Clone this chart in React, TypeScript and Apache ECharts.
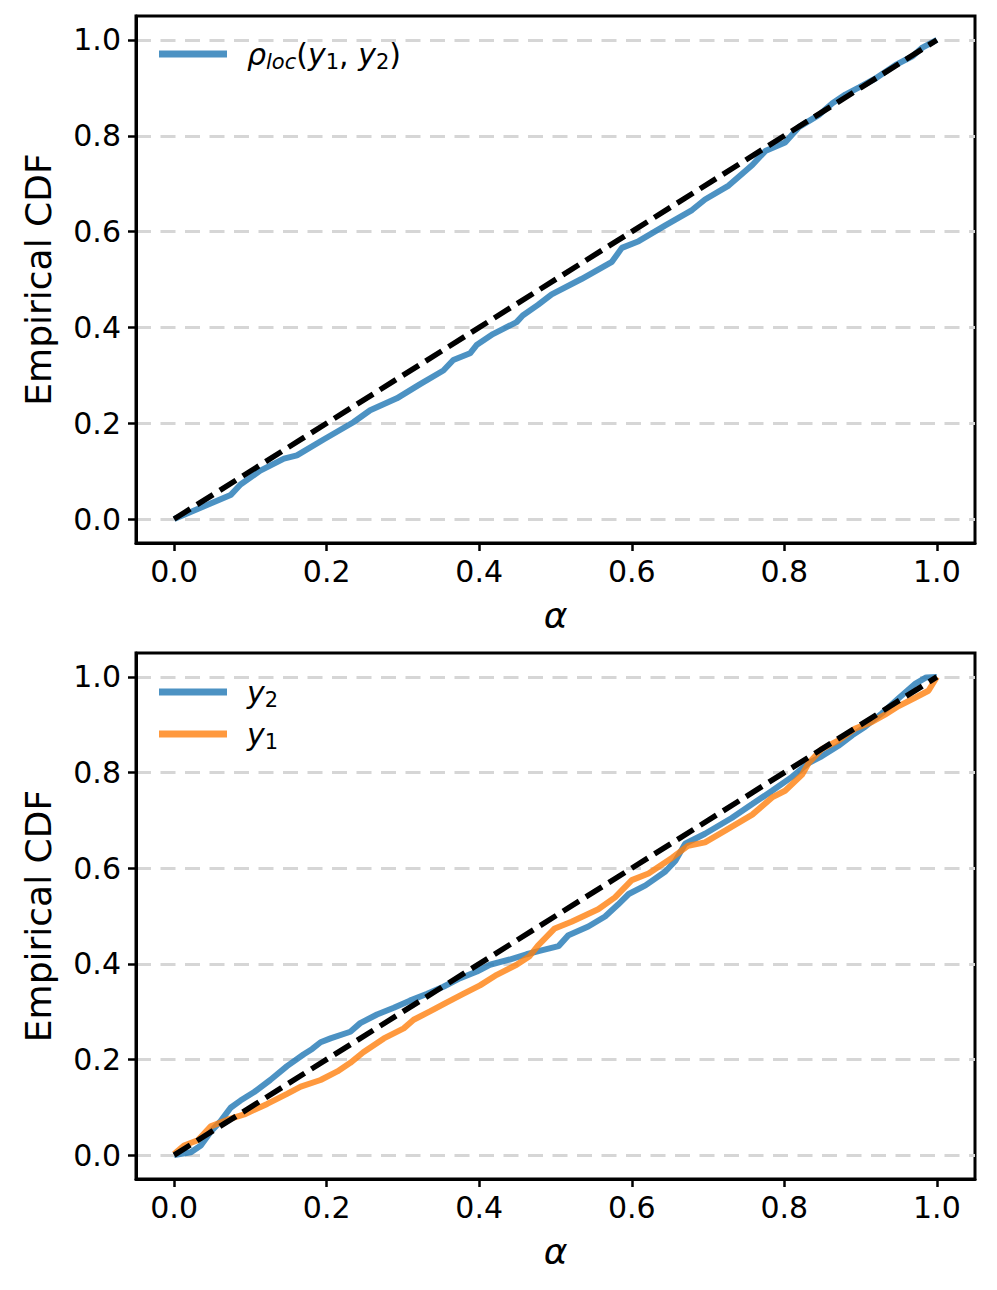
import React, { useEffect, useRef } from "react";
import * as echarts from "echarts";

const tickValues = [0, 0.2, 0.4, 0.6, 0.8, 1.0];

const rhoAlpha = [0, 0.037, 0.074, 0.087, 0.113, 0.144, 0.161, 0.196, 0.235, 0.257, 0.292, 0.322, 0.353, 0.366, 0.388, 0.397, 0.418, 0.449, 0.457, 0.477, 0.495, 0.534, 0.574, 0.587, 0.609, 0.644, 0.679, 0.696, 0.727, 0.758, 0.775, 0.801, 0.819, 0.845, 0.863, 0.88, 0.898, 0.919, 0.946, 0.968, 0.981, 1.0];
const rhoCdf = [0, 0.025, 0.05, 0.072, 0.101, 0.126, 0.133, 0.166, 0.202, 0.227, 0.252, 0.281, 0.31, 0.332, 0.346, 0.364, 0.386, 0.411, 0.425, 0.447, 0.469, 0.501, 0.537, 0.566, 0.58, 0.613, 0.645, 0.667, 0.696, 0.739, 0.768, 0.786, 0.818, 0.843, 0.868, 0.886, 0.901, 0.919, 0.948, 0.966, 0.984, 1.0];

const y2Alpha = [0, 0.022, 0.035, 0.048, 0.061, 0.074, 0.087, 0.105, 0.126, 0.148, 0.17, 0.181, 0.192, 0.205, 0.231, 0.244, 0.266, 0.288, 0.309, 0.331, 0.353, 0.375, 0.397, 0.414, 0.44, 0.462, 0.479, 0.504, 0.517, 0.543, 0.565, 0.582, 0.596, 0.618, 0.644, 0.657, 0.67, 0.696, 0.731, 0.758, 0.784, 0.81, 0.832, 0.849, 0.871, 0.889, 0.906, 0.928, 0.951, 0.972, 0.986, 1.0];
const y2Cdf = [0, 0.006, 0.02, 0.049, 0.071, 0.099, 0.114, 0.132, 0.157, 0.186, 0.211, 0.222, 0.236, 0.244, 0.258, 0.276, 0.294, 0.308, 0.323, 0.337, 0.352, 0.37, 0.384, 0.398, 0.409, 0.42, 0.427, 0.437, 0.46, 0.478, 0.499, 0.524, 0.546, 0.564, 0.593, 0.615, 0.651, 0.672, 0.705, 0.734, 0.762, 0.791, 0.82, 0.834, 0.856, 0.878, 0.896, 0.924, 0.957, 0.986, 0.999, 1.0];

const y1Alpha = [0, 0.013, 0.031, 0.048, 0.07, 0.092, 0.122, 0.148, 0.166, 0.192, 0.214, 0.231, 0.248, 0.275, 0.301, 0.314, 0.336, 0.357, 0.379, 0.401, 0.423, 0.449, 0.466, 0.477, 0.499, 0.521, 0.556, 0.578, 0.6, 0.622, 0.653, 0.674, 0.696, 0.723, 0.758, 0.784, 0.801, 0.823, 0.832, 0.849, 0.871, 0.893, 0.915, 0.932, 0.95, 0.972, 0.989, 1.0];
const y1Cdf = [0.002, 0.02, 0.031, 0.06, 0.074, 0.085, 0.107, 0.128, 0.143, 0.157, 0.175, 0.193, 0.215, 0.244, 0.265, 0.283, 0.301, 0.319, 0.337, 0.355, 0.377, 0.398, 0.416, 0.438, 0.474, 0.488, 0.514, 0.539, 0.575, 0.589, 0.622, 0.647, 0.654, 0.679, 0.712, 0.748, 0.762, 0.795, 0.82, 0.849, 0.867, 0.892, 0.906, 0.921, 0.939, 0.957, 0.971, 1.0];

const diagAlpha = [0, 1];
const diagCdf = [0, 1];

const F = "DejaVu Sans";
const BLUE = "rgba(31,119,180,0.8)";
const ORANGE = "rgba(255,127,14,0.8)";

const zip = (a: number[], b: number[]) => a.map((v, i) => [v, b[i]]);

const rich = {
  i: { fontFamily: F, fontStyle: "italic", fontSize: 30, lineHeight: 36, color: "#000", verticalAlign: "middle" },
  n: { fontFamily: F, fontSize: 30, lineHeight: 36, color: "#000", verticalAlign: "middle" },
  si: { fontFamily: F, fontStyle: "italic", fontSize: 21, lineHeight: 21, color: "#000", verticalAlign: "bottom" },
  s: { fontFamily: F, fontSize: 21, lineHeight: 21, color: "#000", verticalAlign: "bottom" },
};

const legendText: Record<string, string> = {
  rho: "{i|ρ}{si|loc}{n|(}{i|y}{s|1}{n|, }{i|y}{s|2}{n|)}",
  y2: "{i|y}{s|2}",
  y1: "{i|y}{s|1}",
};

function xAxisCfg(gridIndex: number) {
  return {
    gridIndex,
    type: "value",
    min: -0.05,
    max: 1.05,
    axisLine: { show: true, onZero: false, lineStyle: { color: "#000", width: 3 } },
    axisTick: { show: true, customValues: tickValues, length: 8, lineStyle: { color: "#000", width: 2.5 } },
    axisLabel: { customValues: tickValues, formatter: (v: number) => v.toFixed(1), fontSize: 30, color: "#000", fontFamily: F, margin: 13 },
    splitLine: { show: false },
    name: "α",
    nameLocation: "middle",
    nameGap: 54,
    nameTextStyle: { fontSize: 36, fontStyle: "italic", fontFamily: F, color: "#000" },
  };
}

function yAxisCfg(gridIndex: number) {
  return {
    gridIndex,
    type: "value",
    min: -0.05,
    max: 1.05,
    axisLine: { show: true, onZero: false, lineStyle: { color: "#000", width: 3 } },
    axisTick: { show: true, customValues: tickValues, length: 8, lineStyle: { color: "#000", width: 2.5 } },
    axisLabel: { customValues: tickValues, formatter: (v: number) => v.toFixed(1), fontSize: 30, color: "#000", fontFamily: F, margin: 15 },
    splitLine: { show: true, lineStyle: { color: "#d6d6d6", width: 3, type: [15, 9.5] } },
    name: "Empirical CDF",
    nameLocation: "middle",
    nameRotate: 90,
    nameGap: 80,
    nameTextStyle: { fontSize: 36, fontFamily: F, color: "#000" },
  };
}

function lineSeries(name: string, idx: number, data: number[][], color: string) {
  return {
    name,
    type: "line",
    xAxisIndex: idx,
    yAxisIndex: idx,
    data,
    symbol: "none",
    showSymbol: false,
    color,
    itemStyle: { color },
    lineStyle: { color, width: 6 },
    z: 2,
  };
}

function diagSeries(idx: number) {
  return {
    name: "diag" + idx,
    type: "line",
    xAxisIndex: idx,
    yAxisIndex: idx,
    data: zip(diagAlpha, diagCdf),
    symbol: "none",
    showSymbol: false,
    lineStyle: { color: "#000", width: 5.5, type: [19, 8] },
    z: 3,
  };
}

export default function App() {
  const ref = useRef<HTMLDivElement>(null);
  useEffect(() => {
    if (!ref.current) return;
    const chart = echarts.init(ref.current, undefined, { renderer: "svg" });
    const legendCommon = {
      icon: "rect",
      itemWidth: 68,
      itemHeight: 7,
      padding: 0,
      orient: "vertical",
      itemGap: 9,
      formatter: (name: string) => legendText[name] || name,
      textStyle: { rich, padding: [0, 0, 0, 15] },
      itemStyle: { borderWidth: 0 },
      selectedMode: false,
    };
    chart.setOption({
      animation: false,
      backgroundColor: "#fff",
      grid: [
        { left: 136, top: 16, width: 839, height: 527, show: true, borderColor: "#000", borderWidth: 3, backgroundColor: "transparent" },
        { left: 136, top: 653, width: 839, height: 526, show: true, borderColor: "#000", borderWidth: 3, backgroundColor: "transparent" },
      ],
      xAxis: [xAxisCfg(0), xAxisCfg(1)],
      yAxis: [yAxisCfg(0), yAxisCfg(1)],
      legend: [
        { ...legendCommon, left: 159, top: 39, data: ["rho"] },
        { ...legendCommon, left: 159, top: 677, data: ["y2", "y1"] },
      ],
      series: [
        lineSeries("rho", 0, zip(rhoAlpha, rhoCdf), BLUE),
        diagSeries(0),
        lineSeries("y2", 1, zip(y2Alpha, y2Cdf), BLUE),
        lineSeries("y1", 1, zip(y1Alpha, y1Cdf), ORANGE),
        diagSeries(1),
      ],
    });
    return () => chart.dispose();
  }, []);
  return <div ref={ref} style={{ position: "fixed", left: 0, top: 0, width: 997, height: 1290 }} />;
}
